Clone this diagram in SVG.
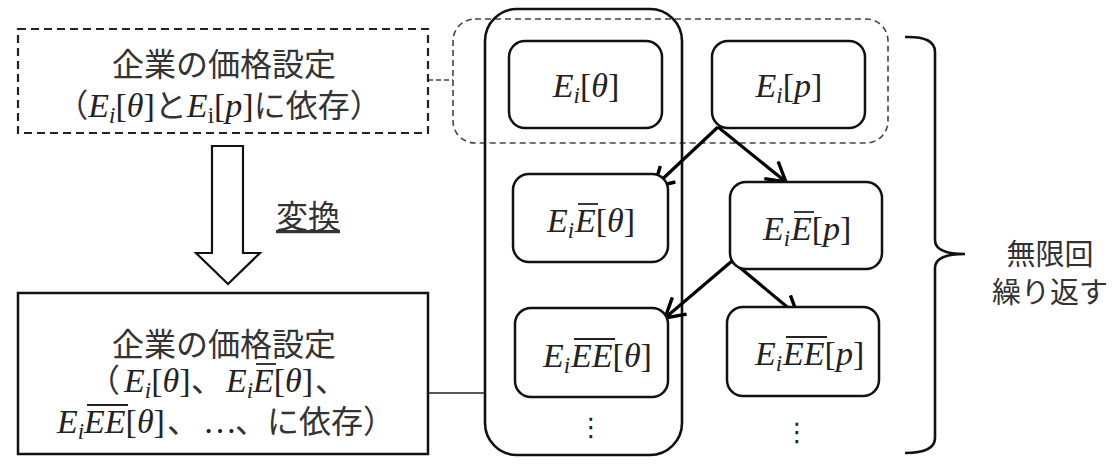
<svg xmlns="http://www.w3.org/2000/svg" width="1116" height="465" viewBox="0 0 1116 465">
<style>
.bg{fill:#fff}
.box{fill:#fff;stroke:#111;stroke-width:2.5}
.jp{font-family:"Noto Sans CJK JP","Noto Sans",sans-serif;font-size:32px;fill:#333;font-style:normal}
.rep{font-family:"Noto Sans CJK JP","Noto Sans",sans-serif;font-size:29px;fill:#333}
.m{font-family:"Liberation Serif","Times New Roman",serif;font-size:34px;fill:#222}
.it{font-style:italic}
.sub{font-size:23px;font-style:italic}
.ov{stroke:#222;stroke-width:1.8}
.arr{stroke:#000;stroke-width:3.2;fill:none}
.dots{font-family:"DejaVu Sans",sans-serif;font-size:26px;fill:#222}
</style>
<defs>
<marker id="ah" markerUnits="userSpaceOnUse" markerWidth="26" markerHeight="26" refX="21" refY="13" orient="auto" viewBox="0 0 26 26" overflow="visible">
<path d="M2,2 L21,13 L2,24" fill="none" stroke="#000" stroke-width="3.4" stroke-linejoin="miter"/>
</marker>
</defs>
<rect class="bg" x="0" y="0" width="1116" height="465"/>

<g id="group-dashed">
<rect x="453" y="19" width="435" height="124" rx="22" fill="none" stroke="#444" stroke-width="1.6" stroke-dasharray="6,4"/>
</g>
<g id="group-theta">
<rect x="485" y="9" width="197" height="446" rx="32" fill="none" stroke="#111" stroke-width="2.6"/>
</g>

<g id="connectors">
<line x1="428" y1="80" x2="453" y2="80" stroke="#444" stroke-width="1.6" stroke-dasharray="5,3"/>
<line x1="428" y1="393" x2="485" y2="393" stroke="#222" stroke-width="1.5"/>
<line class="arr" x1="718" y1="127" x2="654" y2="187" marker-end="url(#ah)"/>
<line class="arr" x1="718" y1="127" x2="786" y2="182" marker-end="url(#ah)"/>
<line class="arr" x1="732" y1="261" x2="665" y2="318" marker-end="url(#ah)"/>
<line class="arr" x1="732" y1="261" x2="798" y2="316" marker-end="url(#ah)"/>
<polygon points="212,146 243,146 243,253 260,253 228,284 196,253 212,253" fill="#fff" stroke="#111" stroke-width="2.2"/>
<path d="M905,37 Q935,36 935,52 L935,240 Q935,254 965,254 Q935,254 935,268 L935,438 Q935,453 905,453" fill="none" stroke="#111" stroke-width="2.6"/>
</g>

<g id="n-pricing-before">
<rect x="18" y="29" width="410" height="104" fill="#fff" stroke="#222" stroke-width="2.2" stroke-dasharray="8,5"/>
<text class="jp" x="224" y="76" text-anchor="middle">企業の価格設定</text>
<text class="m" x="219" y="117" text-anchor="middle"><tspan class="jp">（</tspan><tspan class="it">E</tspan><tspan class="sub" dy="6">i</tspan><tspan dy="-6">[</tspan><tspan class="it">θ</tspan>]<tspan class="jp">と</tspan><tspan class="it">E</tspan><tspan font-size="23" dy="6">i</tspan><tspan dy="-6">[</tspan><tspan class="it">p</tspan>]<tspan class="jp">に依存）</tspan></text>
</g>

<g id="n-convert">
<text class="jp" x="308" y="228" text-anchor="middle" font-size="30" text-decoration="underline">変換</text>
</g>

<g id="n-pricing-after">
<rect class="box" x="18" y="293" width="410" height="161" stroke-width="2.2"/>
<text class="jp" x="224" y="356" text-anchor="middle">企業の価格設定</text>
<text class="m" y="392"><tspan class="jp" x="88">（</tspan><tspan class="it" x="124">E</tspan><tspan class="sub" dy="6">i</tspan><tspan dy="-6">[</tspan><tspan class="it">θ</tspan>]<tspan class="jp" x="191">、</tspan><tspan class="it" x="226">E</tspan><tspan class="sub" dy="6">i</tspan><tspan class="it" dy="-6" x="253">E</tspan>[<tspan class="it">θ</tspan>]<tspan class="jp" x="315">、</tspan></text>
<line class="ov" x1="256" y1="364" x2="276" y2="364"/>
<text class="m" y="433"><tspan class="it" x="57">E</tspan><tspan class="sub" dy="6">i</tspan><tspan class="it" dy="-6" x="84">EE</tspan>[<tspan class="it">θ</tspan>]<tspan class="jp" x="167">、</tspan><tspan x="203">…</tspan><tspan class="jp" x="235">、に依存）</tspan></text>
<line class="ov" x1="87" y1="405" x2="128" y2="405"/>
</g>

<g id="n-ei-theta">
<rect class="box" x="509" y="41" width="153" height="87" rx="16"/>
<text class="m" x="586" y="97" text-anchor="middle"><tspan class="it">E</tspan><tspan class="sub" dy="6">i</tspan><tspan dy="-6">[</tspan><tspan class="it">θ</tspan>]</text>
</g>
<g id="n-ei-p">
<rect class="box" x="712" y="41" width="153" height="87" rx="16"/>
<text class="m" x="789" y="97" text-anchor="middle"><tspan class="it">E</tspan><tspan class="sub" dy="6">i</tspan><tspan dy="-6">[</tspan><tspan class="it">p</tspan>]</text>
</g>
<g id="n-eie-theta">
<rect class="box" x="513" y="174" width="155" height="88" rx="16"/>
<text class="m" y="232"><tspan class="it" x="547">E</tspan><tspan class="sub" dy="6">i</tspan><tspan class="it" dy="-6" x="575">E</tspan>[<tspan class="it">θ</tspan>]</text>
<line class="ov" x1="578" y1="204" x2="598" y2="204"/>
</g>
<g id="n-eie-p">
<rect class="box" x="730" y="182" width="152" height="87" rx="16"/>
<text class="m" y="240"><tspan class="it" x="763">E</tspan><tspan class="sub" dy="6">i</tspan><tspan class="it" dy="-6" x="791">E</tspan>[<tspan class="it">p</tspan>]</text>
<line class="ov" x1="794" y1="212" x2="814" y2="212"/>
</g>
<g id="n-eiee-theta">
<rect class="box" x="515" y="308" width="153" height="89" rx="16"/>
<text class="m" y="367"><tspan class="it" x="543">E</tspan><tspan class="sub" dy="6">i</tspan><tspan class="it" dy="-6" x="571">EE</tspan>[<tspan class="it">θ</tspan>]</text>
<line class="ov" x1="574" y1="339" x2="615" y2="339"/>
<text class="dots" x="591" y="436" text-anchor="middle">⋮</text>
</g>
<g id="n-eiee-p">
<rect class="box" x="727" y="307" width="152" height="89" rx="16"/>
<text class="m" y="365"><tspan class="it" x="755">E</tspan><tspan class="sub" dy="6">i</tspan><tspan class="it" dy="-6" x="783">EE</tspan>[<tspan class="it">p</tspan>]</text>
<line class="ov" x1="786" y1="337" x2="827" y2="337"/>
<text class="dots" x="797" y="441" text-anchor="middle">⋮</text>
</g>

<g id="n-repeat">
<text class="rep" x="1050" y="265" text-anchor="middle">無限回</text>
<text class="rep" x="1050" y="303" text-anchor="middle">繰り返す</text>
</g>
</svg>
